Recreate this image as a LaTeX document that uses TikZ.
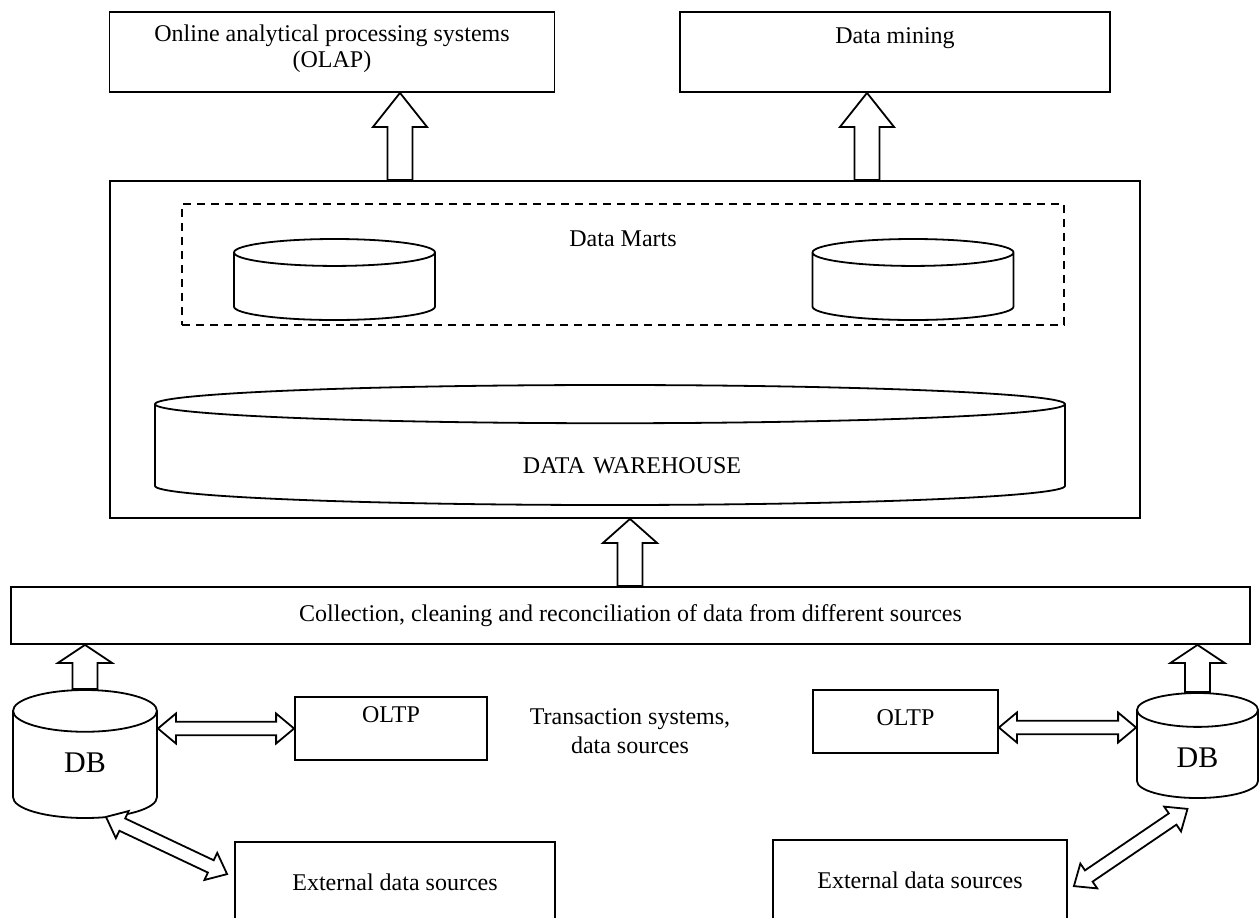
\documentclass[tikz,border=0pt]{standalone}
\usepackage{fontspec}
\setmainfont{Liberation Serif}
\usetikzlibrary{calc,shapes.geometric}

\tikzset{
  box/.style={draw, line width=0.9pt, inner sep=0pt},
  can/.style={draw, line width=0.9pt, cylinder, shape border rotate=90, inner sep=0pt,
    fill=white, align=center, anchor=shape center},
}
\tikzset{blk/.style={draw, line width=0.9pt, fill=white, line join=miter}}

% hollow block arrow: [head length]{tail}{tip}
\def\arsw{6.25pt}
\def\arhw{13.5pt}
\newcommand\blockarrow[3][16pt]{%
  \coordinate (hb) at ($(#3)!#1!(#2)$);
  \draw[blk] ($(#2)!\arsw!-90:(#3)$) -- ($(hb)!\arsw!-90:(#3)$) -- ($(hb)!\arhw!-90:(#3)$) -- (#3)
    -- ($(hb)!\arhw!90:(#3)$) -- ($(hb)!\arsw!90:(#3)$) -- ($(#2)!\arsw!90:(#3)$) -- cycle;
}
% hollow double arrow between two points
\newcommand\dblarrow[2]{%
  \coordinate (ha) at ($(#1)!9pt!(#2)$);
  \coordinate (hb) at ($(#2)!9pt!(#1)$);
  \draw[blk] (#1) -- ($(ha)!7.5pt!90:(#2)$) -- ($(ha)!3.4pt!90:(#2)$) -- ($(hb)!3.4pt!90:(#2)$)
    -- ($(hb)!7.5pt!90:(#2)$) -- (#2) -- ($(hb)!7.5pt!-90:(#2)$) -- ($(hb)!3.4pt!-90:(#2)$)
    -- ($(ha)!3.4pt!-90:(#2)$) -- ($(ha)!7.5pt!-90:(#2)$) -- cycle;
}

\begin{document}
\begin{tikzpicture}[x=0.5pt, y=-0.5pt, font=\fontsize{12}{13}\selectfont]
  \useasboundingbox (0,0) rectangle (1260,917);
  \clip (0,0) rectangle (1260,917);

  % consumers
  \node[box, minimum width=222.5pt, minimum height=40pt, align=center, text height=21pt, text depth=6pt] (olap) at (332,52) {Online analytical processing systems\\(OLAP)};
  \node[box, minimum width=215pt, minimum height=40pt, text height=8pt, text depth=17pt] (mining) at (895,52) {Data mining};

  % warehouse
  \node[box, minimum width=515pt, minimum height=168.5pt] (dw) at (625,349.5) {};
  \node[box, dash pattern=on 4pt off 3pt, minimum width=441pt, minimum height=60.5pt, text height=8pt, text depth=26.5pt] (marts) at (623,264.5) {Data Marts};
  \node[can, text width=100.5pt, minimum height=40.5pt, aspect=0.134] (mart1) at (334.5,279.5) {};
  \node[can, text width=100.5pt, minimum height=40.5pt, aspect=0.134] (mart2) at (913,279.5) {};
  \node[can, text width=455pt, minimum height=60pt, aspect=0.042, text height=18pt, text depth=0pt] (store) at (610,445) {\hspace*{22pt}DATA WAREHOUSE};

  \node[box, minimum width=619.5pt, minimum height=28.5pt] (collect) at (630.5,615.5) {Collection, cleaning and reconciliation of data from different sources};

  % sources
  \node[can, text width=72pt, minimum height=64pt, aspect=0.29, text height=8pt, text depth=0pt, font=\fontsize{15}{18}\selectfont] (db1) at (85,754) {DB};
  \node[box, minimum width=96pt, minimum height=31.5pt, text height=8pt, text depth=14.5pt] (oltp1) at (391,728.5) {OLTP};
  \node[align=center, font=\fontsize{12}{14.5}\selectfont] (trans) at (630,731) {Transaction systems,\\data sources};
  \node[box, minimum width=92.5pt, minimum height=31.5pt, text height=8pt, text depth=4.5pt] (oltp2) at (905.5,721.5) {OLTP};
  \node[can, text width=60.5pt, minimum height=52.5pt, aspect=0.28, text height=13pt, text depth=0pt, font=\fontsize{15}{18}\selectfont] (db2) at (1197.5,745.5) {DB};
  \node[box, minimum width=160pt, minimum height=50pt, text height=8pt, text depth=10pt] (ext1) at (395,892) {External data sources};
  \node[box, minimum width=147pt, minimum height=50pt, text height=8pt, text depth=10pt] (ext2) at (920,890) {External data sources};

  % arrow ends
  \coordinate (olapin) at (400,0 |- olap.south);
  \coordinate (olapout) at (400,0 |- dw.north);
  \coordinate (minein) at (867,0 |- mining.south);
  \coordinate (mineout) at (867,0 |- dw.north);
  \coordinate (dwin) at (630,0 |- dw.south);
  \coordinate (colout) at (630,0 |- collect.north);
  \coordinate (colin1) at (db1.north |- collect.south);
  \coordinate (colin2) at (db2.north |- collect.south);
  \coordinate (db1r) at (db1.east |- oltp1.west);
  \coordinate (o2e) at ($(oltp2.east)+(0,6)$);
  \coordinate (db2l) at (db2.west |- o2e);
  \coordinate (d1a) at ($(db1.south)+(21,-2)$);
  \coordinate (d1b) at ($(ext1.north west)+(-7,33)$);
  \coordinate (d2a) at ($(db2.south)+(-10,10)$);
  \coordinate (d2b) at ($(ext2.north east)+(6,47)$);

  \blockarrow[17pt]{olapout}{olapin}
  \blockarrow[17pt]{mineout}{minein}
  \blockarrow[12pt]{colout}{dwin}
  \blockarrow[9pt]{db1.north}{colin1}
  \blockarrow[9pt]{db2.north}{colin2}
  \dblarrow{db1r}{oltp1.west}
  \dblarrow{o2e}{db2l}
  \dblarrow{d1a}{d1b}
  \dblarrow{d2a}{d2b}
\end{tikzpicture}
\end{document}
